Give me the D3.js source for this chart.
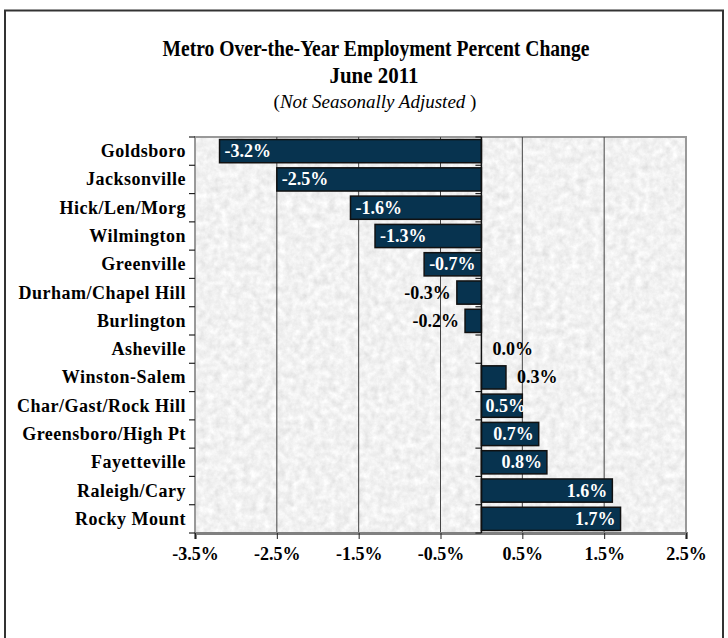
<!DOCTYPE html>
<html>
<head>
<meta charset="utf-8">
<script src="https://cdn.jsdelivr.net/npm/d3@7"></script>
<style>
  body { margin: 0; background: #fff; }
  text { font-family: "Liberation Serif", "Times New Roman", serif; }
</style>
</head>
<body>
<div id="chart"></div>
<script>
var metros = ["Goldsboro", "Jacksonville", "Hick/Len/Morg", "Wilmington", "Greenville",
    "Durham/Chapel Hill", "Burlington", "Asheville", "Winston-Salem", "Char/Gast/Rock Hill",
    "Greensboro/High Pt", "Fayetteville", "Raleigh/Cary", "Rocky Mount"];
var pctChange = [-3.2, -2.5, -1.6, -1.3, -0.7, -0.3, -0.2, 0.0, 0.3, 0.5, 0.7, 0.8, 1.6, 1.7];
var xTicks = [-3.5, -2.5, -1.5, -0.5, 0.5, 1.5, 2.5];
var titleLines = ["Metro Over-the-Year Employment Percent Change", "June 2011"];
var subtitle = "Not Seasonally Adjusted";

var W = 728, H = 638;
var plot = {left: 195, right: 686, top: 137, bottom: 533};

var locale = d3.formatLocale({decimal: ".", thousands: ",", grouping: [3], currency: ["$", ""], minus: "-"});
var fmt = d => locale.format(".1f")(d) + "%";

var svg = d3.select("#chart")
    .append("svg")
    .attr("width", W)
    .attr("height", H);

// granite-ish texture for plot background
var defs = svg.append("defs");
var f = defs.append("filter").attr("id", "granite")
    .attr("x", 0).attr("y", 0).attr("width", "100%").attr("height", "100%");
f.append("feTurbulence").attr("type", "fractalNoise")
    .attr("baseFrequency", 0.14).attr("numOctaves", 4).attr("seed", 7);
f.append("feColorMatrix").attr("type", "saturate").attr("values", 0);
var ct = f.append("feComponentTransfer");
["feFuncR", "feFuncG", "feFuncB"].forEach(function(n) {
    ct.append(n).attr("type", "linear").attr("slope", 0.45).attr("intercept", 0.66);
});
ct.append("feFuncA").attr("type", "linear").attr("slope", 0).attr("intercept", 1);

// outer frame
svg.append("rect")
    .attr("x", 5).attr("y", 10.5)
    .attr("width", 718).attr("height", 640)
    .attr("fill", "none")
    .attr("stroke", "#333")
    .attr("stroke-width", 2);

// titles
svg.append("text")
    .attr("x", 376).attr("y", 56)
    .attr("text-anchor", "middle")
    .attr("font-size", 23).attr("font-weight", "bold")
    .attr("textLength", 427).attr("lengthAdjust", "spacingAndGlyphs")
    .text(titleLines[0]);
svg.append("text")
    .attr("x", 374).attr("y", 83)
    .attr("text-anchor", "middle")
    .attr("font-size", 23).attr("font-weight", "bold")
    .attr("textLength", 89).attr("lengthAdjust", "spacingAndGlyphs")
    .text(titleLines[1]);
var sub = svg.append("text")
    .attr("x", 375).attr("y", 108)
    .attr("text-anchor", "middle")
    .attr("font-size", 19);
sub.append("tspan").text("(");
sub.append("tspan").attr("font-style", "italic").text(subtitle);
sub.append("tspan").text(" )");

var x = d3.scaleLinear()
    .domain([-3.5, 2.5])
    .range([plot.left, plot.right]);

var y = d3.scaleBand()
    .domain(metros)
    .range([plot.top, plot.bottom])
    .paddingInner(0.18)
    .paddingOuter(0.09);

// plot area
svg.append("rect")
    .attr("x", plot.left).attr("y", plot.top)
    .attr("width", plot.right - plot.left).attr("height", plot.bottom - plot.top)
    .attr("filter", "url(#granite)");
svg.append("rect")
    .attr("x", plot.left).attr("y", plot.top)
    .attr("width", plot.right - plot.left).attr("height", plot.bottom - plot.top)
    .attr("fill", "none").attr("stroke", "#999").attr("stroke-width", 2);

// gridlines
svg.append("g")
    .selectAll("line")
    .data(xTicks.slice(1, -1))
    .enter().append("line")
    .attr("x1", d => x(d)).attr("x2", d => x(d))
    .attr("y1", plot.top).attr("y2", plot.bottom)
    .attr("stroke", "#444").attr("stroke-width", 1);

// x axis
var xAxis = svg.append("g")
    .attr("transform", "translate(0," + plot.bottom + ")")
    .call(d3.axisBottom(x).tickValues(xTicks).tickSize(6).tickPadding(4).tickFormat(fmt));
xAxis.select(".domain").attr("stroke", "#808080").attr("stroke-width", 3);
xAxis.selectAll(".tick line").attr("stroke", "#222");
xAxis.selectAll("text")
    .attr("font-family", "Liberation Serif, serif")
    .attr("font-size", 18).attr("font-weight", "bold").attr("fill", "#000")
    .attr("dy", "0.95em");

// category labels
svg.append("g")
    .selectAll("text")
    .data(metros)
    .enter().append("text")
    .attr("x", 186)
    .attr("y", d => y(d) + y.bandwidth() / 2 + 6)
    .attr("text-anchor", "end")
    .attr("font-size", 18).attr("font-weight", "bold")
    .attr("letter-spacing", 0.5)
    .text(d => d);

// category ticks at left edge and at the zero line
var bounds = metros.map(d => y(d) - y.step() * y.paddingInner() / 2);
bounds.push(plot.bottom);
bounds[0] = plot.top;
[plot.left, x(0)].forEach(function(px) {
    svg.append("g")
        .selectAll("line")
        .data(bounds)
        .enter().append("line")
        .attr("x1", px - 6).attr("x2", px)
        .attr("y1", d => d).attr("y2", d => d)
        .attr("stroke", "#222").attr("stroke-width", 1.2);
});

// bars
var data = metros.map((m, i) => ({name: m, value: pctChange[i]}));
svg.append("g")
    .selectAll("rect")
    .data(data.filter(d => d.value !== 0))
    .enter().append("rect")
    .attr("x", d => x(Math.min(0, d.value)))
    .attr("y", d => y(d.name))
    .attr("width", d => Math.abs(x(d.value) - x(0)))
    .attr("height", y.bandwidth())
    .attr("fill", "#07334f")
    .attr("stroke", "#111")
    .attr("stroke-width", 1.5);

// zero line (category axis)
svg.append("line")
    .attr("x1", x(0)).attr("x2", x(0))
    .attr("y1", plot.top).attr("y2", plot.bottom)
    .attr("stroke", "#111").attr("stroke-width", 1.5);

// value labels
svg.append("g")
    .selectAll("text")
    .data(data)
    .enter().append("text")
    .attr("font-size", 18).attr("font-weight", "bold")
    .attr("y", d => y(d.name) + y.bandwidth() / 2 + 6)
    .each(function(d) {
        var t = d3.select(this).text(fmt(d.value));
        var w = this.getComputedTextLength();
        var inside = Math.abs(d.value) >= 0.5;
        if (inside) {
            t.attr("fill", "#fff");
            if (d.value < 0) {
                t.attr("x", x(d.value) + 5).attr("text-anchor", "start");
            } else {
                var sx = Math.max(x(0) + 4, x(d.value) - 5 - w);
                t.attr("x", sx).attr("text-anchor", "start");
            }
        } else {
            t.attr("fill", "#000");
            if (d.value < 0) {
                t.attr("x", x(d.value) - 6).attr("text-anchor", "end");
            } else {
                t.attr("x", x(d.value) + 11).attr("text-anchor", "start");
            }
        }
    });
</script>
</body>
</html>
